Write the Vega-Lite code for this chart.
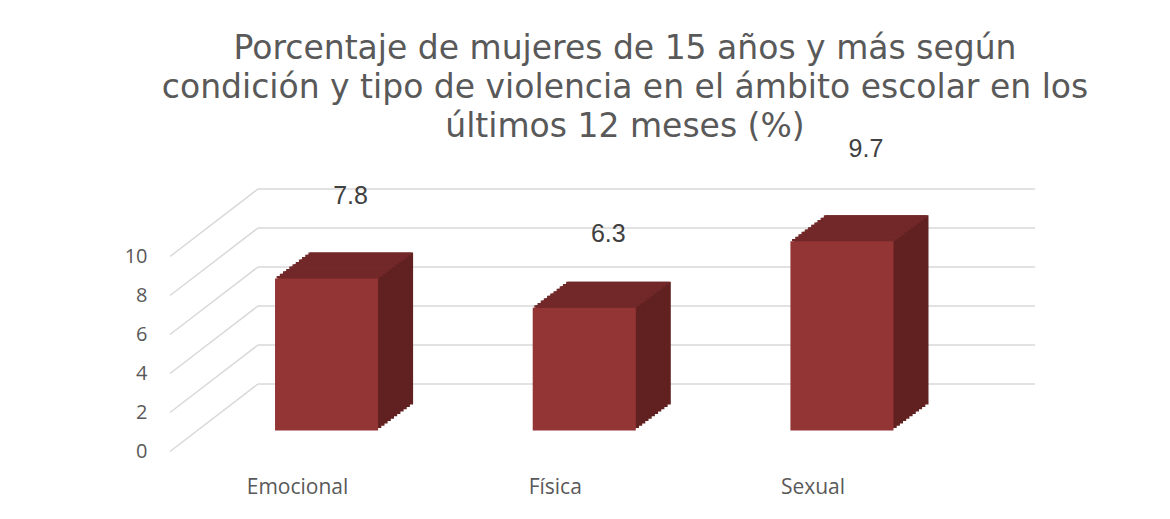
{
  "$schema": "https://vega.github.io/schema/vega-lite/v6.json",
  "width": 865,
  "height": 195,
  "autosize": "none",
  "padding": {"left": 170, "top": 235.5, "right": 135, "bottom": 88.5},
  "background": "white",
  "config": {"view": {"stroke": null}},
  "title": {
    "text": ["Porcentaje de mujeres de 15 años y más según", "condición y tipo de violencia en el ámbito escolar en los", "últimos 12 meses (%)"],
    "font": "DejaVu Sans",
    "fontSize": 33,
    "fontWeight": "normal",
    "lineHeight": 39,
    "color": "#595959",
    "anchor": "middle",
    "dx": 22.5,
    "offset": -7
  },
  "datasets": {
    "bars": [
      {"tipo": "Emocional", "valor": 7.8},
      {"tipo": "Física", "valor": 6.3},
      {"tipo": "Sexual", "valor": 9.7}
    ],
    "ticks": [{"v": 0}, {"v": 2}, {"v": 4}, {"v": 6}, {"v": 8}, {"v": 10}]
  },
  "layer": [
    {
      "data": {"name": "ticks"},
      "mark": {"type": "rule", "color": "#d9d9d9", "strokeWidth": 1.5, "yOffset": 21, "y2Offset": -46.5},
      "encoding": {
        "x": {"datum": 0, "type": "quantitative", "scale": {"domain": [0, 9.83], "nice": false, "zero": false}, "axis": null},
        "x2": {"datum": 1},
        "y": {"field": "v", "type": "quantitative", "scale": {"domain": [0, 10], "nice": false},
          "axis": {"values": [0, 2, 4, 6, 8, 10], "domain": false, "ticks": false, "grid": false, "title": null,
            "labelFont": "Open Sans", "labelFontSize": 20, "labelColor": "#595959", "labelOffset": 21, "labelPadding": 23}},
        "y2": {"field": "v"}
      }
    },
    {
      "data": {"name": "ticks"},
      "mark": {"type": "rule", "color": "#d9d9d9", "strokeWidth": 1.5, "yOffset": -46.5},
      "encoding": {
        "x": {"datum": 1, "type": "quantitative", "scale": {"domain": [0, 9.83], "nice": false, "zero": false}, "axis": null},
        "x2": {"datum": 9.83},
        "y": {"field": "v", "type": "quantitative", "scale": {"domain": [0, 10], "nice": false}, "axis": null}
      }
    },
    {
      "data": {"name": "bars"},
      "encoding": {
        "x": {"field": "tipo", "type": "nominal", "sort": null,
          "scale": {"type": "band", "domain": ["Emocional", "Física", "Sexual"], "paddingInner": 0.6, "paddingOuter": 0.4783, "align": 0.426},
          "axis": {"domain": false, "ticks": false, "grid": false, "title": null, "labelAngle": 0,
            "labelFont": "Open Sans", "labelFontSize": 21, "labelColor": "#595959", "labelOffset": -29, "labelPadding": 46}},
        "y": {"field": "valor", "type": "quantitative", "scale": {"domain": [0, 10], "nice": false}, "axis": null}
      },
      "layer": [
        {"mark": {"type": "bar", "color": "#612121", "xOffset": 35, "x2Offset": 35, "yOffset": -26, "y2Offset": -26}},
        {"mark": {"type": "bar", "color": "#612121", "xOffset": 31.8, "x2Offset": 31.8, "yOffset": -23.6, "y2Offset": -23.6}},
        {"mark": {"type": "bar", "color": "#612121", "xOffset": 28.6, "x2Offset": 28.6, "yOffset": -21.3, "y2Offset": -21.3}},
        {"mark": {"type": "bar", "color": "#612121", "xOffset": 25.5, "x2Offset": 25.5, "yOffset": -18.9, "y2Offset": -18.9}},
        {"mark": {"type": "bar", "color": "#612121", "xOffset": 22.3, "x2Offset": 22.3, "yOffset": -16.5, "y2Offset": -16.5}},
        {"mark": {"type": "bar", "color": "#612121", "xOffset": 19.1, "x2Offset": 19.1, "yOffset": -14.2, "y2Offset": -14.2}},
        {"mark": {"type": "bar", "color": "#612121", "xOffset": 15.9, "x2Offset": 15.9, "yOffset": -11.8, "y2Offset": -11.8}},
        {"mark": {"type": "bar", "color": "#612121", "xOffset": 12.7, "x2Offset": 12.7, "yOffset": -9.5, "y2Offset": -9.5}},
        {"mark": {"type": "bar", "color": "#612121", "xOffset": 9.5, "x2Offset": 9.5, "yOffset": -7.1, "y2Offset": -7.1}},
        {"mark": {"type": "bar", "color": "#612121", "xOffset": 6.4, "x2Offset": 6.4, "yOffset": -4.7, "y2Offset": -4.7}},
        {"mark": {"type": "bar", "color": "#612121", "xOffset": 3.2, "x2Offset": 3.2, "yOffset": -2.4, "y2Offset": -2.4}},
        {"mark": {"type": "bar", "color": "#722828", "xOffset": 33.4, "x2Offset": 33.4, "yOffset": -26, "y2Offset": -23.2}, "encoding": {"y2": {"field": "valor"}}},
        {"mark": {"type": "bar", "color": "#722828", "xOffset": 30.2, "x2Offset": 30.2, "yOffset": -23.6, "y2Offset": -20.9}, "encoding": {"y2": {"field": "valor"}}},
        {"mark": {"type": "bar", "color": "#722828", "xOffset": 27.0, "x2Offset": 27.0, "yOffset": -21.3, "y2Offset": -18.5}, "encoding": {"y2": {"field": "valor"}}},
        {"mark": {"type": "bar", "color": "#722828", "xOffset": 23.9, "x2Offset": 23.9, "yOffset": -18.9, "y2Offset": -16.1}, "encoding": {"y2": {"field": "valor"}}},
        {"mark": {"type": "bar", "color": "#722828", "xOffset": 20.7, "x2Offset": 20.7, "yOffset": -16.5, "y2Offset": -13.8}, "encoding": {"y2": {"field": "valor"}}},
        {"mark": {"type": "bar", "color": "#722828", "xOffset": 17.5, "x2Offset": 17.5, "yOffset": -14.2, "y2Offset": -11.4}, "encoding": {"y2": {"field": "valor"}}},
        {"mark": {"type": "bar", "color": "#722828", "xOffset": 14.3, "x2Offset": 14.3, "yOffset": -11.8, "y2Offset": -9.1}, "encoding": {"y2": {"field": "valor"}}},
        {"mark": {"type": "bar", "color": "#722828", "xOffset": 11.1, "x2Offset": 11.1, "yOffset": -9.5, "y2Offset": -6.7}, "encoding": {"y2": {"field": "valor"}}},
        {"mark": {"type": "bar", "color": "#722828", "xOffset": 8.0, "x2Offset": 8.0, "yOffset": -7.1, "y2Offset": -4.3}, "encoding": {"y2": {"field": "valor"}}},
        {"mark": {"type": "bar", "color": "#722828", "xOffset": 4.8, "x2Offset": 4.8, "yOffset": -4.7, "y2Offset": -2}, "encoding": {"y2": {"field": "valor"}}},
        {"mark": {"type": "bar", "color": "#722828", "xOffset": 1.6, "x2Offset": 1.6, "yOffset": -2.4, "y2Offset": 0}, "encoding": {"y2": {"field": "valor"}}},
        {"mark": {"type": "bar", "color": "#943535"}}
      ]
    },
    {
      "data": {"name": "bars"},
      "mark": {"type": "text", "font": "Liberation Sans", "fontSize": 25, "color": "#404040", "baseline": "middle", "align": "center", "xOffset": 24},
      "encoding": {
        "x": {"field": "tipo", "type": "nominal", "sort": null,
          "scale": {"type": "band", "domain": ["Emocional", "Física", "Sexual"], "paddingInner": 0.6, "paddingOuter": 0.4783, "align": 0.426},
          "axis": null},
        "y": {"field": "valor", "type": "quantitative", "scale": {"domain": [-1.568, 6.232], "nice": false, "zero": false}, "axis": null},
        "text": {"field": "valor", "type": "quantitative", "format": ".1f"}
      }
    }
  ],
  "resolve": {"scale": {"x": "independent", "y": "independent"}}
}
